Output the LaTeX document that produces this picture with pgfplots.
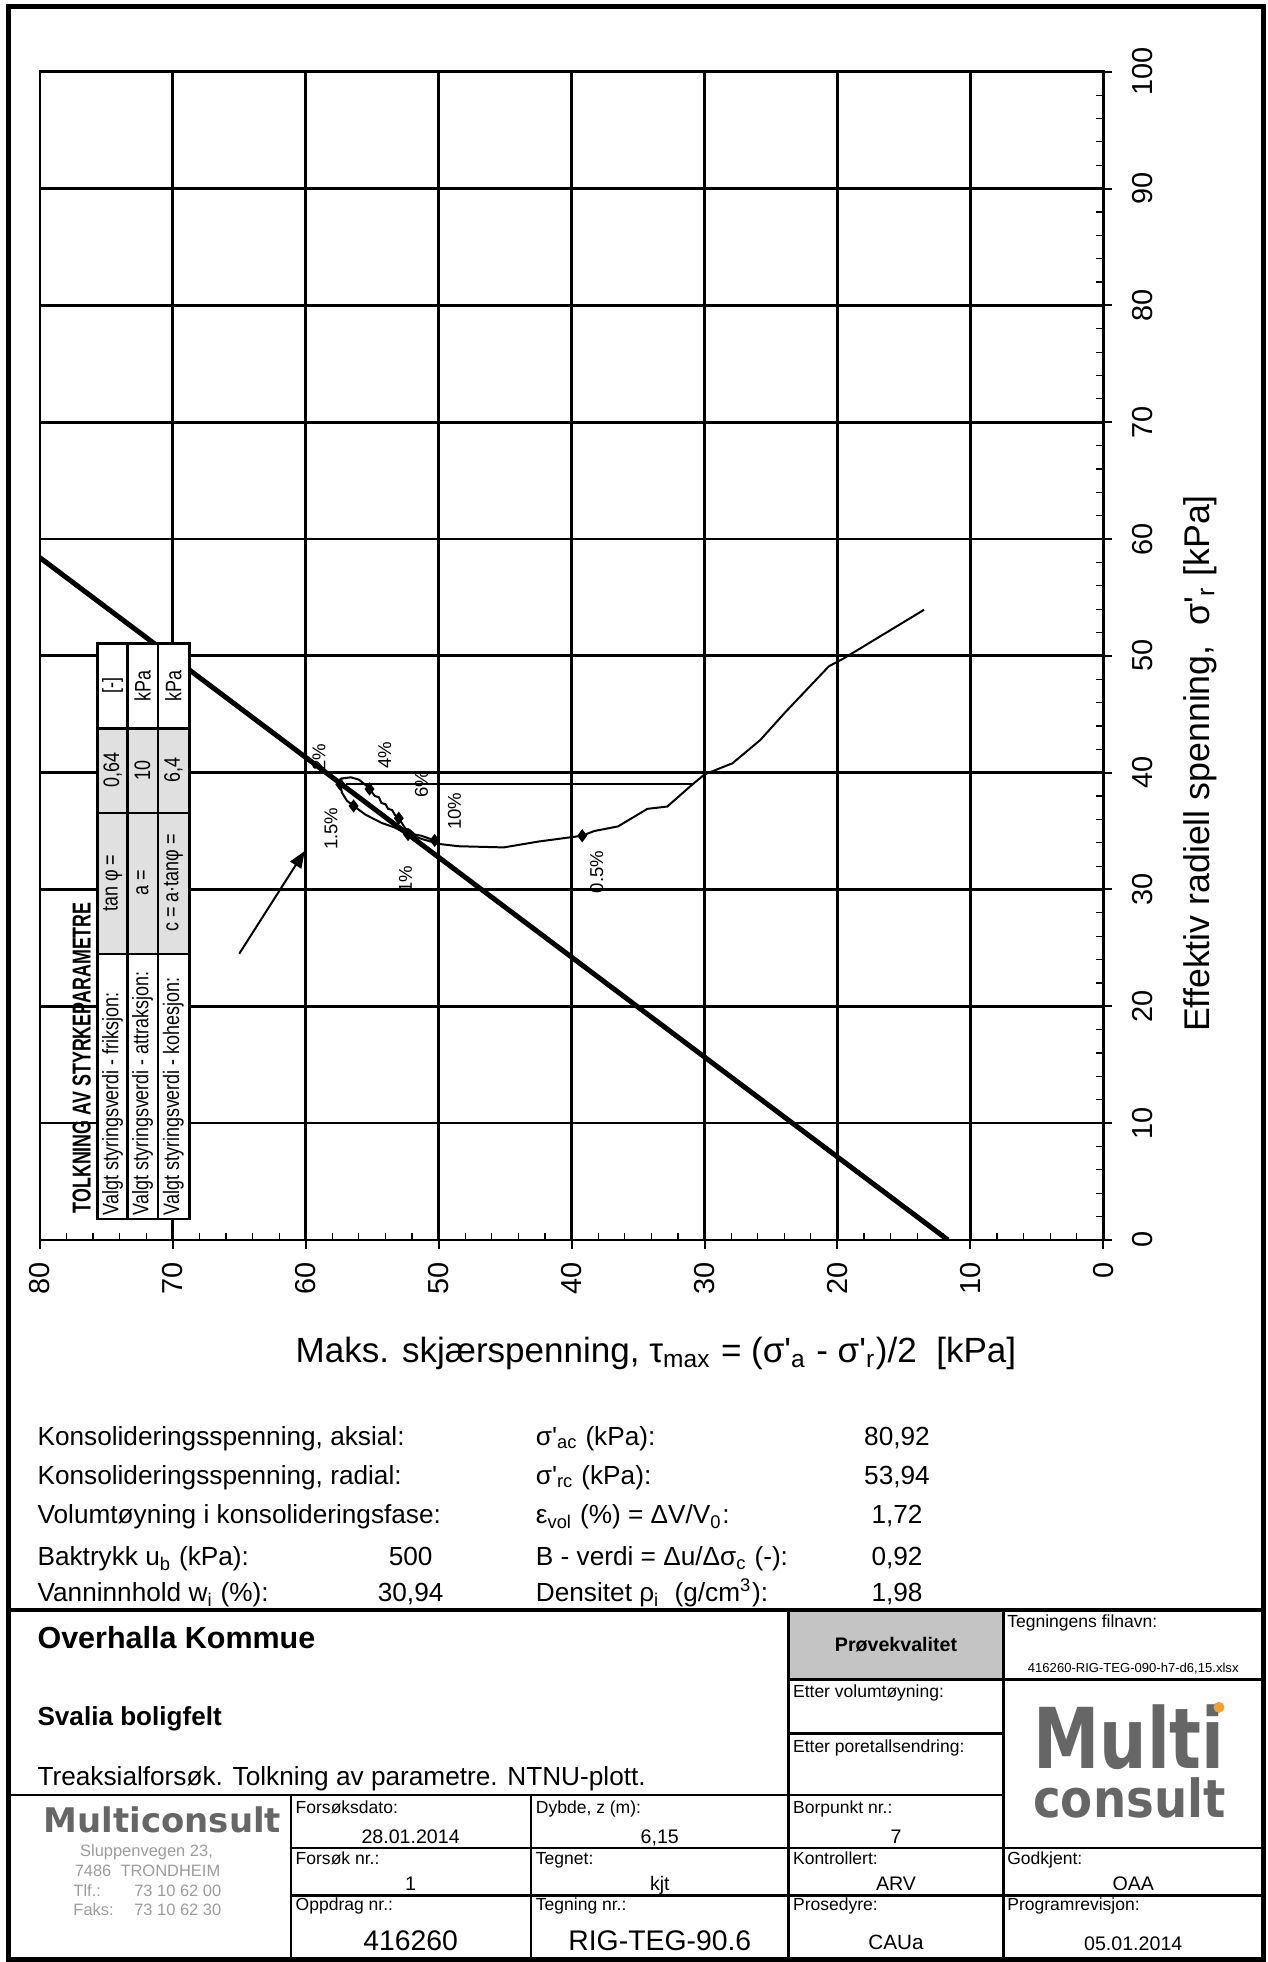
\documentclass[border=0pt]{standalone}
\usepackage{fontspec}
\setmainfont{Liberation Sans}
\newfontfamily\dejavu{DejaVu Sans}
\usepackage{graphicx}
\usepackage{pgfplots}
\pgfplotsset{compat=1.18}
\usetikzlibrary{arrows.meta}
\definecolor{tabgray}{HTML}{E0E0E0}
\definecolor{pkgray}{HTML}{C4C4C4}
\definecolor{logogray}{HTML}{666666}
\definecolor{addrgray}{HTML}{9C9C9C}
\definecolor{logoorange}{HTML}{F0A030}
\newcommand{\fs}[1]{\fontsize{#1}{#1}\selectfont}
\newcommand{\q}{\textquotesingle}
\begin{document}
\begin{tikzpicture}
\begin{scope}[x=0.1mm,y=-0.1mm]
\useasboundingbox (0,0) rectangle (1272,1962);
\end{scope}
\begin{axis}[
  at={(4.0mm,-124.4mm)}, anchor=south west,
  scale only axis, width=106.7mm, height=117.2mm,
  xmin=0, xmax=80, ymin=0, ymax=100, x dir=reverse,
  xtick={0,10,...,80}, ytick={0,10,...,100},
  minor x tick num=4, minor y tick num=4,
  grid=major, major grid style={black, line width=0.27mm},
  axis line style={line width=0.27mm},
  xtick pos=left, ytick pos=right, yticklabel pos=right,
  tick align=outside, major tick length=0.9mm, minor tick length=0.7mm,
  major tick style={line width=0.2mm, black},
  minor tick style={line width=0.12mm, black},
  minor x tick style={yshift=0.7mm},
  minor y tick style={xshift=-0.7mm},
  /pgf/number format/assume math mode=true,
  xticklabel style={rotate=90, anchor=east, inner sep=0pt, font=\fs{8.25}},
  yticklabel style={rotate=90, anchor=north, inner sep=0pt, font=\fs{8.25}},
  xticklabel shift=1.3mm, yticklabel shift=1.9mm,
]
\addplot[black, line width=0.5mm] coordinates {(11.694,0) (80,58.41)};
\addplot[black, line width=0.2mm] coordinates {
(13.49,53.94) (19.5,49.8) (20.65,49.1) (23.9,45.2) (25.8,42.8) (27.9,40.8)
(30.0,39.85) (31.0,38.9) (32.8,37.1) (34.3,36.9) (36.5,35.4) (38.3,35.0)
(39.2,34.6) (42.5,34.1) (45.1,33.6) (48.5,33.7) (50.0,33.9)
(51.2,34.3) (52.3,34.7) (53.3,35.3) (54.3,35.7) (55.5,36.4) (56.4,37.15)
(56.9,37.6) (57.27,38.28) (57.4,39.0) (57.3,39.5) (56.6,39.6) (56.0,39.4)
(55.4,38.85) (55.2,38.6) (54.8,38.0) (54.5,37.9) (54.3,37.4) (54.0,37.3) (53.8,36.9)
(53.5,36.8) (53.3,36.4) (53.0,36.1) (52.5,35.2) (52.2,35.1) (51.8,34.7) (51.3,34.6) (50.8,34.4) (50.3,34.2)
};
\addplot[black, line width=0.2mm] coordinates {(57.0,39.07) (30.9,39.07)};
\addplot[only marks, mark=diamond*, mark size=0.55mm, black] coordinates {
(39.2,34.6) (52.3,34.7) (56.4,37.15) (57.4,39.0) (55.2,38.6) (53.0,36.1) (50.3,34.2)};
\addplot[black, line width=0.2mm, -{Triangle[length=1.7mm,width=1.3mm]}] coordinates {(65.0,24.5) (60.07,33.3)};
\node[rotate=90, font=\fs{5.3}, inner sep=0] at (axis cs:59.0,41.3) {2\%};
\node[rotate=90, font=\fs{5.3}, inner sep=0] at (axis cs:54.06,41.5) {4\%};
\node[rotate=90, font=\fs{5.3}, inner sep=0] at (axis cs:51.3,39.0) {6\%};
\node[rotate=90, font=\fs{5.3}, inner sep=0] at (axis cs:48.8,36.7) {10\%};
\node[rotate=90, font=\fs{5.3}, inner sep=0] at (axis cs:58.1,35.2) {1.5\%};
\node[rotate=90, font=\fs{5.3}, inner sep=0] at (axis cs:52.5,30.9) {1\%};
\node[rotate=90, font=\fs{5.3}, inner sep=0] at (axis cs:38.1,31.5) {0.5\%};
\end{axis}
\begin{scope}[x=0.1mm,y=-0.1mm]
% strength table (rotated)
\fill[white] (98,645.5) rectangle (190,1222.8);
\fill[tabgray] (98,730.8) rectangle (190,957.1);
\draw[line width=0.25mm] (98,645.5) rectangle (190,1222.8);
\draw[line width=0.25mm] (128,645.5)--(128,1222.8) (158.5,645.5)--(158.5,1222.8);
\draw[line width=0.25mm] (98,730.8)--(190,730.8) (98,815.6)--(190,815.6) (98,957.1)--(190,957.1);
\node[rotate=90, anchor=west, inner sep=0] at (82,1218) {\scalebox{0.69}[1]{\fs{7.4}\bfseries TOLKNING AV STYRKEPARAMETRE}};
\node[rotate=90, anchor=west, inner sep=0] at (113,1220) {\scalebox{0.8}[1]{\fs{6.4}Valgt styringsverdi - friksjon:}};
\node[rotate=90, anchor=west, inner sep=0] at (143,1220) {\scalebox{0.8}[1]{\fs{6.4}Valgt styringsverdi - attraksjon:}};
\node[rotate=90, anchor=west, inner sep=0] at (174,1220) {\scalebox{0.8}[1]{\fs{6.4}Valgt styringsverdi - kohesjon:}};
\node[rotate=90, inner sep=0] at (113,886) {\scalebox{0.8}[1]{\fs{6.4}tan φ =}};
\node[rotate=90, inner sep=0] at (143,886) {\scalebox{0.8}[1]{\fs{6.4}a =}};
\node[rotate=90, inner sep=0] at (174,886) {\scalebox{0.8}[1]{\fs{6.4}c = a·tanφ =}};
\node[rotate=90, inner sep=0] at (113,773) {\scalebox{0.8}[1]{\fs{6.4}0,64}};
\node[rotate=90, inner sep=0] at (143,773) {\scalebox{0.8}[1]{\fs{6.4}10}};
\node[rotate=90, inner sep=0] at (174,773) {\scalebox{0.8}[1]{\fs{6.4}6,4}};
\node[rotate=90, inner sep=0] at (113,688) {\scalebox{0.8}[1]{\fs{6.4}[-]}};
\node[rotate=90, inner sep=0] at (143,688) {\scalebox{0.8}[1]{\fs{6.4}kPa}};
\node[rotate=90, inner sep=0] at (174,688) {\scalebox{0.8}[1]{\fs{6.4}kPa}};
% axis labels
\node[anchor=base west, inner sep=0, font=\fs{10}] at (296,1367) {Maks. skjærspenning, τ\textsubscript{max} = (σ\q\textsubscript{a} - σ\q\textsubscript{r})/2~~[kPa]};
\node[rotate=90, anchor=base west, inner sep=0, font=\fs{10.2}] at (1213,1036) {Effektiv radiell spenning,~~σ\q\textsubscript{r} [kPa]};
% frame
\draw[line width=0.5mm] (9,7) rectangle (1267.5,1966);
% data block
\begin{scope}[every node/.style={inner sep=0, font=\fs{7.48}}]
\node[anchor=base west] at (37,1450) {Konsolideringsspenning, aksial:};
\node[anchor=base west] at (37,1489) {Konsolideringsspenning, radial:};
\node[anchor=base west] at (37,1529) {Volumtøyning i konsolideringsfase:};
\node[anchor=base west] at (37,1571) {Baktrykk u\textsubscript{b} (kPa):};
\node[anchor=base west] at (37,1607) {Vanninnhold w\textsubscript{i} (\%):};
\node[anchor=base] at (412,1571) {500};
\node[anchor=base] at (412,1607) {30,94};
\node[anchor=base west] at (537,1450) {σ\q\textsubscript{ac} (kPa):};
\node[anchor=base west] at (537,1489) {σ\q\textsubscript{rc} (kPa):};
\node[anchor=base west] at (537,1529) {ε\textsubscript{vol} (\%) = ΔV/V\textsubscript{0}:};
\node[anchor=base west] at (537,1571) {B - verdi = Δu/Δσ\textsubscript{c} (-):};
\node[anchor=base west] at (537,1607) {Densitet ρ\textsubscript{i}~ (g/cm\textsuperscript{3}):};
\node[anchor=base] at (900,1450) {80,92};
\node[anchor=base] at (900,1489) {53,94};
\node[anchor=base] at (900,1529) {1,72};
\node[anchor=base] at (900,1571) {0,92};
\node[anchor=base] at (900,1607) {1,98};
\end{scope}
% title block
\fill[pkgray] (791,1615) rectangle (1007,1685);
\draw[line width=0.4mm] (9,1615) -- (1267.5,1615);
\draw[line width=0.25mm] (791,1615)--(791,1966) (1007,1615)--(1007,1966)
  (791,1685)--(1267.5,1685) (791,1739)--(1007,1739) (9,1801)--(1007,1801)
  (292,1801)--(292,1966) (533,1801)--(533,1966)
  (292,1854)--(1267.5,1854) (292,1902)--(1267.5,1902);
\node[anchor=base west, inner sep=0, font=\fs{8.7}\bfseries] at (37,1654) {Overhalla Kommue};
\node[anchor=base west, inner sep=0, font=\fs{7.45}\bfseries] at (37,1731) {Svalia boligfelt};
\node[anchor=base west, inner sep=0, font=\fs{7.48}] at (37,1791) {Treaksialforsøk. Tolkning av parametre. NTNU-plott.};
\node[anchor=base, inner sep=0, font=\fs{5.6}\bfseries] at (899,1657) {Prøvekvalitet};
\node[anchor=base west, inner sep=0, font=\fs{5.0}] at (1010,1633) {Tegningens filnavn:};
\node[anchor=base, inner sep=0, font=\fs{3.73}] at (1137,1678) {416260-RIG-TEG-090-h7-d6,15.xlsx};
\node[anchor=base west, inner sep=0, font=\fs{5.0}] at (795,1703) {Etter volumtøyning:};
\node[anchor=base west, inner sep=0, font=\fs{5.0}] at (795,1758) {Etter poretallsendring:};
\begin{scope}[every node/.style={inner sep=0, font=\fs{5.0}, anchor=base west}]
\node at (296,1819) {Forsøksdato:};
\node at (537,1819) {Dybde, z (m):};
\node at (795,1819) {Borpunkt nr.:};
\node at (296,1871) {Forsøk nr.:};
\node at (537,1871) {Tegnet:};
\node at (795,1871) {Kontrollert:};
\node at (1010,1871) {Godkjent:};
\node at (296,1917) {Oppdrag nr.:};
\node at (537,1917) {Tegning nr.:};
\node at (795,1917) {Prosedyre:};
\node at (1010,1917) {Programrevisjon:};
\end{scope}
\begin{scope}[every node/.style={inner sep=0, font=\fs{5.6}, anchor=base}]
\node at (412,1850) {28.01.2014};
\node at (662,1850) {6,15};
\node at (899,1850) {7};
\node at (412,1897) {1};
\node at (662,1897) {kjt};
\node at (899,1897) {ARV};
\node at (1137,1897) {OAA};
\node[font=\fs{8.1}] at (412,1957) {416260};
\node[font=\fs{8.1}] at (662,1957) {RIG-TEG-90.6};
\node[font=\fs{5.9}] at (899,1956) {CAUa};
\node at (1137,1957) {05.01.2014};
\end{scope}
% logos
\node[anchor=base west, inner sep=0, text=logogray] at (1036,1774) {\rlap{\resizebox{19.2mm}{6.4mm}{\dejavu\bfseries Multi}}\raisebox{-4.9mm}{\resizebox{19.3mm}{4.0mm}{\dejavu\bfseries consult}}};
\fill[logoorange] (1223,1713) circle[radius=0.55mm];
\node[anchor=base, inner sep=0, text=logogray] at (163,1839) {\resizebox{23.8mm}{!}{\dejavu\bfseries Multiconsult}};
\begin{scope}[every node/.style={inner sep=0, font=\fs{4.7}, text=addrgray}]
\node[anchor=base] at (147,1863) {Sluppenvegen 23,};
\node[anchor=base] at (148,1883) {7486~~TRONDHEIM};
\node[anchor=base west] at (73,1903) {Tlf.:};
\node[anchor=base west] at (134,1903) {73 10 62 00};
\node[anchor=base west] at (73,1922) {Faks:};
\node[anchor=base west] at (134,1922) {73 10 62 30};
\end{scope}
\end{scope}
\end{tikzpicture}
\end{document}
